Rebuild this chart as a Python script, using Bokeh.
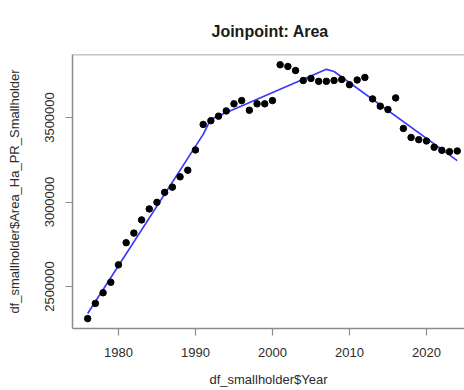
from bokeh.plotting import figure
from bokeh.models import Range1d, Span, FixedTicker
from bokeh.embed import file_html
from bokeh.resources import INLINE

years = [1976, 1977, 1978, 1979, 1980, 1981, 1982, 1983, 1984, 1985, 1986, 1987,
         1988, 1989, 1990, 1991, 1992, 1993, 1994, 1995, 1996, 1997, 1998, 1999,
         2000, 2001, 2002, 2003, 2004, 2005, 2006, 2007, 2008, 2009, 2010, 2011,
         2012, 2013, 2014, 2015, 2016, 2017, 2018, 2019, 2020, 2021, 2022, 2023, 2024]
area = [2310000, 2400000, 2463000, 2525000, 2628000, 2759000, 2816000, 2894000,
        2959000, 2998000, 3057000, 3088000, 3149000, 3188000, 3308000, 3459000,
        3481000, 3508000, 3539000, 3581000, 3600000, 3543000, 3581000, 3581000,
        3600000, 3812000, 3802000, 3778000, 3719000, 3731000, 3714000, 3714000,
        3719000, 3725000, 3694000, 3722000, 3737000, 3610000, 3567000, 3547000,
        3616000, 3435000, 3382000, 3369000, 3361000, 3324000, 3306000, 3298000, 3302000]

# Joinpoint fitted line vertices
fit_years = [1976, 1991, 1992, 2007, 2008, 2024]
fit_area = [2340000, 3400000, 3490000, 3785000, 3772000, 3245000]

x_ticks = [1980, 1990, 2000, 2010, 2020]
y_ticks = [2500000, 3000000, 3500000]

LINE = "#8c8c8c"
TXT = "#2b2b2b"
FONT = "Liberation Sans"

p = figure(width=464, height=390, output_backend="svg", toolbar_location=None,
           x_range=Range1d(1974.03, 2024.94), y_range=Range1d(2251500, 3872800),
           min_border_left=72, min_border_right=0, min_border_top=54,
           min_border_bottom=62, title="Joinpoint: Area")

p.outline_line_color = None
p.grid.visible = False
p.background_fill_color = "white"
p.border_fill_color = "white"

p.title.align = "left"
p.title.offset = 139
p.title.text_font = FONT
p.title.text_font_size = "16px"
p.title.text_font_style = "bold"
p.title.text_color = "#1a1a1a"
p.title.standoff = 30

# top edge of box
p.add_layout(Span(location=3872800, dimension="width", line_color=LINE, line_width=1.5))

for ax in (p.xaxis[0], p.yaxis[0]):
    ax.axis_line_color = LINE
    ax.axis_line_width = 1.5
    ax.major_tick_line_color = LINE
    ax.major_tick_line_width = 1.2
    ax.major_tick_out = 7
    ax.major_tick_in = 0
    ax.minor_tick_line_color = None
    ax.major_label_text_font = FONT
    ax.major_label_text_font_size = "13px"
    ax.major_label_text_color = TXT
    ax.axis_label_text_font = FONT
    ax.axis_label_text_font_size = "13px"
    ax.axis_label_text_font_style = "normal"
    ax.axis_label_text_color = TXT

p.xaxis.ticker = FixedTicker(ticks=x_ticks)
p.yaxis.ticker = FixedTicker(ticks=y_ticks)
p.yaxis.major_label_orientation = "vertical"
p.yaxis.formatter.use_scientific = False
p.xaxis.axis_label = "df_smallholder$Year"
p.yaxis.axis_label = "df_smallholder$Area_Ha_PR_Smallholder"
p.xaxis.major_label_standoff = 12
p.xaxis.axis_label_standoff = 12
p.yaxis.major_label_standoff = 11
p.yaxis.axis_label_standoff = 21

p.line(fit_years, fit_area, line_color="#3a3aff", line_width=1.7)
p.scatter(years, area, size=6.5, color="black")

open("out.html", "w").write(file_html(p, INLINE))
